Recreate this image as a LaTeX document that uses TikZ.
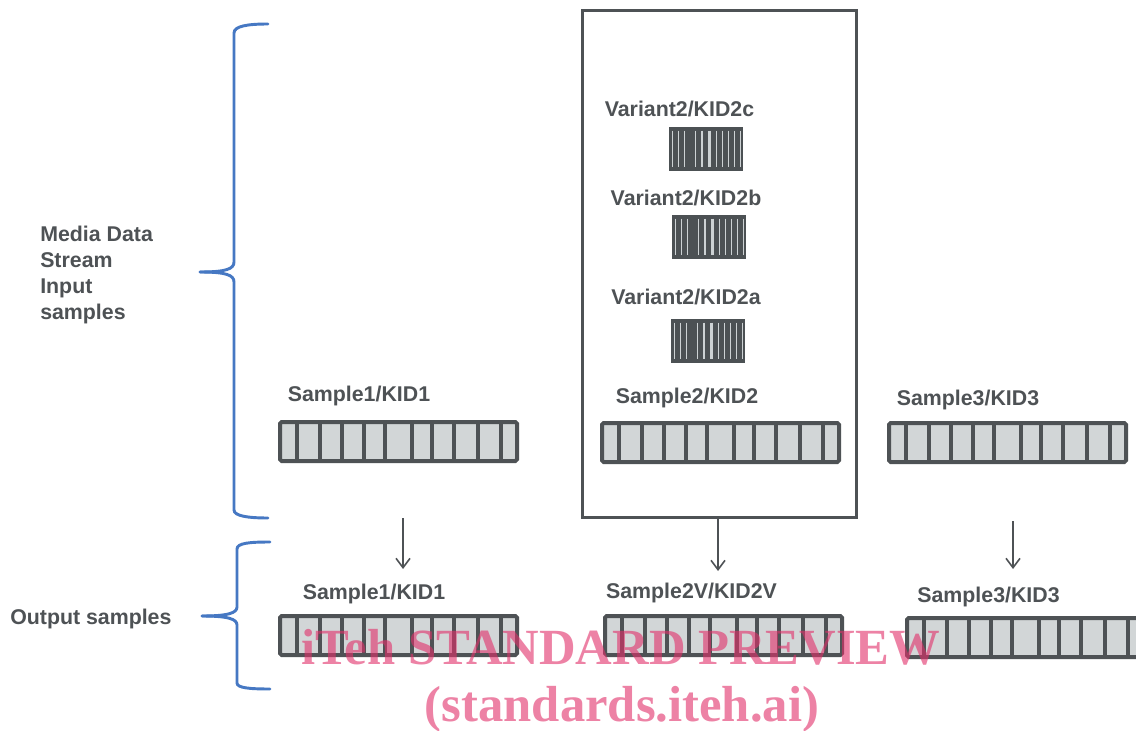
\documentclass[tikz,border=0pt]{standalone}
\usepackage{fontspec}
\setmainfont{Liberation Sans}
\newfontfamily\wmfont{Liberation Serif}
\usetikzlibrary{arrows.meta}
\definecolor{ink}{RGB}{78,82,85}
\definecolor{cellfill}{RGB}{210,214,215}
\definecolor{braceblue}{RGB}{70,120,195}
\definecolor{wmpink}{RGB}{225,47,105}
\definecolor{barlight}{RGB}{205,210,212}
\definecolor{bardark}{RGB}{76,81,84}
\tikzset{
  lbl/.style={font=\bfseries\fontsize{16}{19.5}\selectfont, text=ink, inner sep=0pt},
  brace/.style={draw=braceblue, line width=2.2pt, line cap=round},
  strip/.style={draw=ink, line width=3pt, fill=cellfill, rounded corners=1.2pt,
    minimum width=177.75pt, minimum height=29.25pt, inner sep=0pt, anchor=north west,
    path picture={\foreach \d in {17,40,62,84,105,132,152,174,198,221}
      \draw[ink, line width=3pt] ([xshift=\d*0.75pt]path picture bounding box.north west) -- ([xshift=\d*0.75pt]path picture bounding box.south west);}},
  barcode/.style={fill=bardark, draw=bardark, line width=0.6pt, minimum width=55pt, minimum height=32.5pt,
    inner sep=0pt, anchor=north west,
    path picture={
      \foreach \d in {3,9,14.7,25.7,46.7,52.7,59,64.7,70.7}
        \draw[barlight, line width=0.9pt] ([xshift=\d*0.75pt,yshift=-2.5pt]path picture bounding box.north west) -- ([xshift=\d*0.75pt,yshift=2.5pt]path picture bounding box.south west);
      \foreach \d in {32.3,40}
        \draw[barlight, line width=1.8pt] ([xshift=\d*0.75pt,yshift=-2.5pt]path picture bounding box.north west) -- ([xshift=\d*0.75pt,yshift=2.5pt]path picture bounding box.south west);}},
  bigbox/.style={draw=ink, line width=2.4pt, minimum width=205.5pt, minimum height=380.25pt, inner sep=0pt},
  arr/.style={draw=ink, line width=1.2pt, -{Straight Barb[length=7pt,width=10.5pt,line width=1.2pt]}},
  wm/.style={font=\wmfont\bfseries\fontsize{38}{40}\selectfont, text=wmpink, text opacity=0.6, inner sep=0pt, anchor=base},
}
\begin{document}
\begin{tikzpicture}[x=0.75pt,y=-0.75pt]
\clip (0,0) rectangle (1136,731);
\fill[white] (0,0) rectangle (1136,731);

% braces
\draw[brace] (268,24) .. controls (248,24) and (234,26) .. (234,33) -- (234,262) .. controls (234,269) and (226,272) .. (200,272);
\draw[brace] (200,272) .. controls (226,272) and (234,275) .. (234,282) -- (234,510) .. controls (234,516) and (248,518) .. (268,518);
\draw[brace] (270,542) .. controls (250,542) and (237,543) .. (237,549) -- (237,607) .. controls (237,613) and (228,616) .. (202,616);
\draw[brace] (202,616) .. controls (228,616) and (237,619) .. (237,625) -- (237,683) .. controls (237,688) and (250,689) .. (270,689);

% left labels
\node[lbl, align=left, anchor=west] (mdsi) at (40,275) {Media Data\\Stream\\Input\\samples};
\node[lbl, anchor=west] (outl) at (10,619) {Output samples};

% big box
\node[bigbox] (bigbox) at (719.5,264) {};

% variants
\node[lbl] (v2c) at (679.5,109) {Variant2/KID2c};
\node[barcode] (b2c) at (669,127) {};
\node[lbl] (v2b) at (686,198) {Variant2/KID2b};
\node[barcode] (b2b) at (672,215) {};
\node[lbl] (v2a) at (686,297) {Variant2/KID2a};
\node[barcode] (b2a) at (671,319) {};

% input samples
\node[lbl] (s1l) at (359,396) {Sample1/KID1};
\node[strip] (s1) at (278,420) {};
\node[lbl] (s2l) at (687,398) {Sample2/KID2};
\node[strip] (s2) at (600,421) {};
\node[lbl] (s3l) at (968,400) {Sample3/KID3};
\node[strip] (s3) at (887,421) {};

% output samples
\node[lbl] (o1l) at (374,594) {Sample1/KID1};
\node[strip] (o1) at (278,614) {};
\node[lbl] (o2l) at (691.5,593) {Sample2V/KID2V};
\node[strip] (o2) at (603,614) {};
\node[lbl] (o3l) at (988.5,597) {Sample3/KID3};
\node[strip] (o3) at (905,616) {};

% arrows
\coordinate (a1s) at (403,518);
\coordinate (a1e) at (403,569);
\coordinate (a2e) at (718,571);
\coordinate (a3s) at (1013,521);
\coordinate (a3e) at (1013,569);
\draw[arr] (a1s) -- (a1e);
\draw[arr] (bigbox.south -| a2e) -- (a2e);
\draw[arr] (a3s) -- (a3e);

% watermark
\node[wm] (wm1) at (621,664) {iTeh STANDARD PREVIEW};
\node[wm] (wm2) at (622,721) {(standards.iteh.ai)};
\end{tikzpicture}
\end{document}
